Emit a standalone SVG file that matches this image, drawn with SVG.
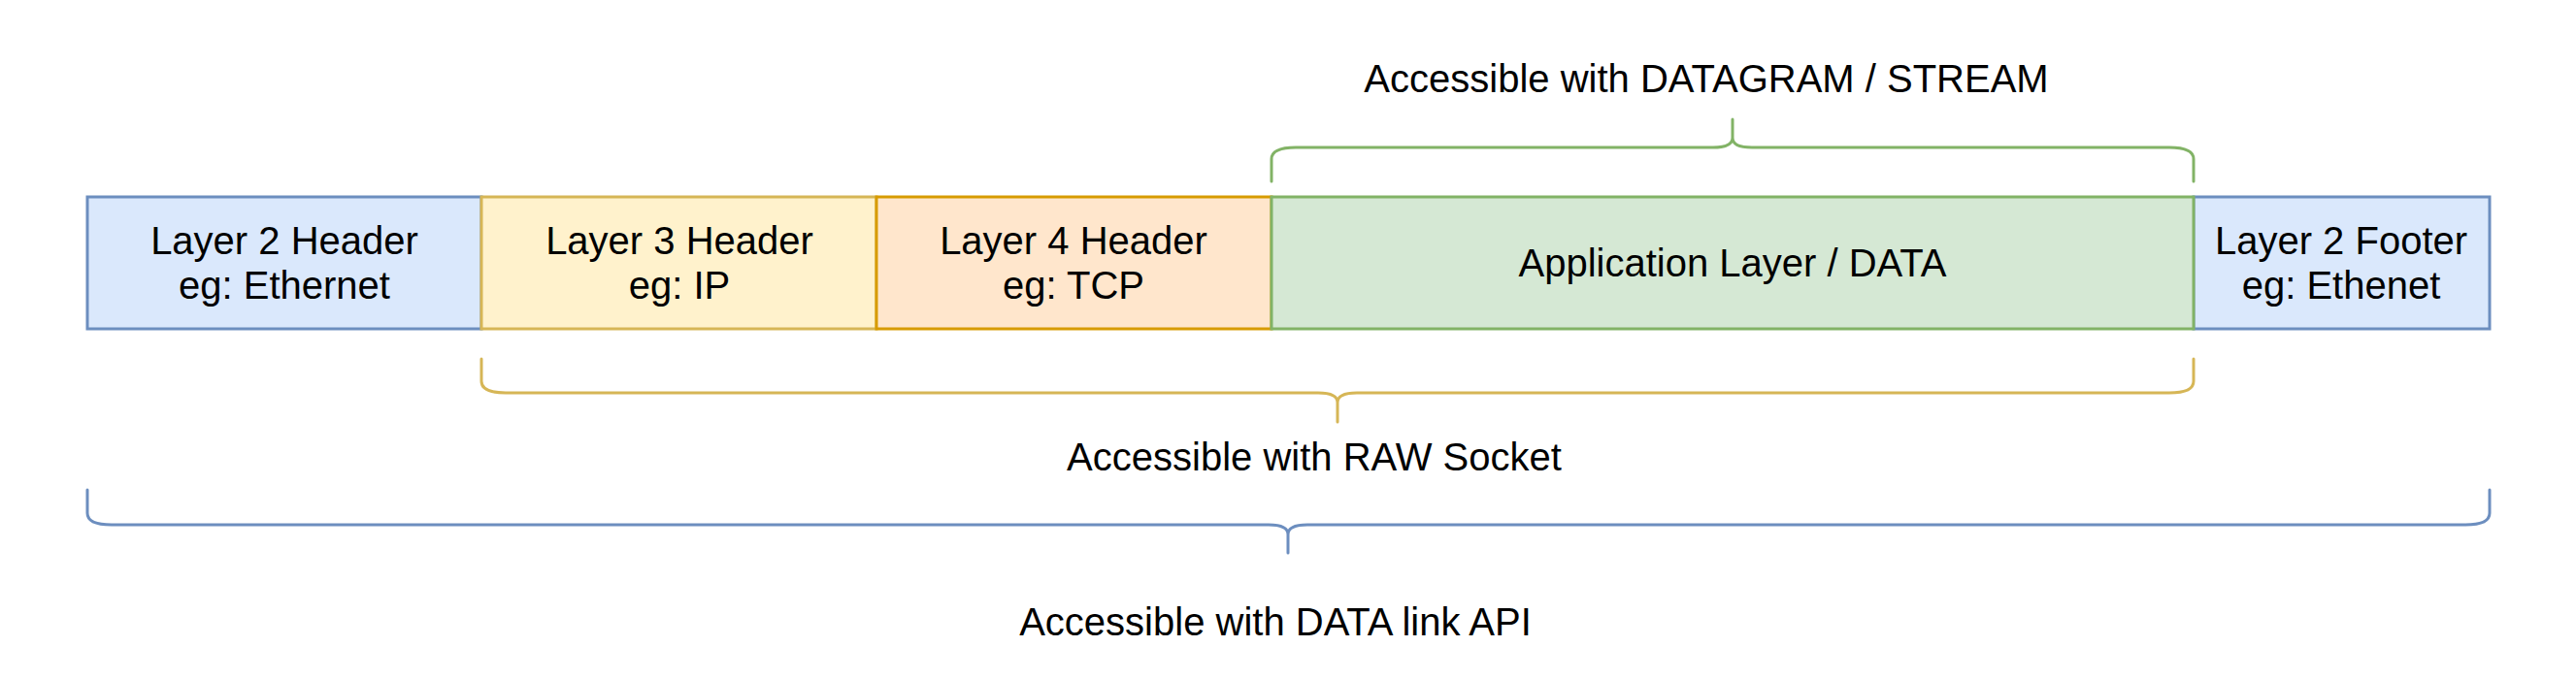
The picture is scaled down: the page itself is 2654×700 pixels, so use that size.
<svg xmlns="http://www.w3.org/2000/svg" width="2654" height="700" viewBox="0 0 2654 700">
<style>
text{font-family:"Liberation Sans",Arial,Helvetica,sans-serif;font-size:40px;fill:#000;text-anchor:middle}
.b{fill:#dae8fc;stroke:#6c8ebf;stroke-width:3}
.y{fill:#fff2cc;stroke:#d6b656;stroke-width:3}
.o{fill:#ffe6cc;stroke:#d79b00;stroke-width:3}
.g{fill:#d5e8d4;stroke:#82b366;stroke-width:3}
.br{fill:none;stroke-width:3;stroke-linecap:round;stroke-linejoin:round}
</style>
<rect width="2654" height="700" fill="#fff"/>
<g id="l2header"><rect class="b" x="90" y="203" width="406" height="136"/><text x="293" y="262">Layer 2 Header</text><text x="293" y="308">eg: Ethernet</text></g>
<g id="l2footer"><rect class="b" x="2260" y="203" width="305" height="136"/><text x="2412" y="262">Layer 2 Footer</text><text x="2412" y="308">eg: Ethenet</text></g>
<g id="l3header"><rect class="y" x="496" y="203" width="407" height="136"/><text x="700" y="262">Layer 3 Header</text><text x="700" y="308">eg: IP</text></g>
<g id="l4header"><rect class="o" x="903" y="203" width="407" height="136"/><text x="1106" y="262">Layer 4 Header</text><text x="1106" y="308">eg: TCP</text></g>
<g id="appdata"><rect class="g" x="1310" y="203" width="950" height="136"/><text x="1785" y="285">Application Layer / DATA</text></g>
<g id="connectors">
<g id="bracket-datagram"><path class="br" stroke="#82b366" d="M1310,187 V164 Q1310,152 1335,152 H1765 Q1785,152 1785,142 Q1785,152 1805,152 H2235 Q2260,152 2260,164 V187 M1785,142 V123"/></g>
<g id="bracket-raw"><path class="br" stroke="#d6b656" d="M496,370 V393 Q496,405 521,405 H1358 Q1378,405 1378,415 Q1378,405 1398,405 H2235 Q2260,405 2260,393 V370 M1378,415 V435"/></g>
<g id="bracket-datalink"><path class="br" stroke="#6c8ebf" d="M90,505 V529 Q90,541 115,541 H1307 Q1327,541 1327,551 Q1327,541 1347,541 H2540 Q2565,541 2565,529 V505 M1327,551 V570"/></g>
</g>
<g id="labels">
<text x="1758" y="95">Accessible with DATAGRAM / STREAM</text>
<text x="1354" y="485">Accessible with RAW Socket</text>
<text x="1314" y="655">Accessible with DATA link API</text>
</g>
</svg>
